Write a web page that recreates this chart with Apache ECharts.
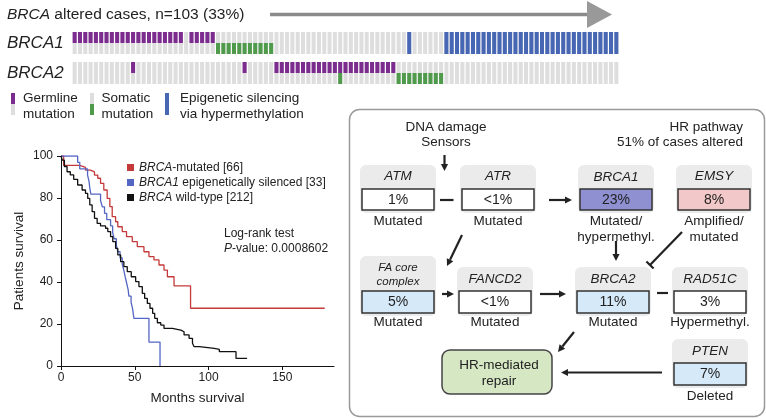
<!DOCTYPE html>
<html><head><meta charset="utf-8">
<script src="https://cdn.jsdelivr.net/npm/echarts@6/dist/echarts.min.js"></script>
<style>html,body{margin:0;padding:0;background:#fff}#c{width:766px;height:419px}</style>
</head><body><div id="c"></div>
<script>
// ---------------- DATA ----------------
const genes = ['BRCA1', 'BRCA2'];
// one char per case: G germline, S somatic, M hypermethylation, B germline+somatic, . none
const brca1Cases = 'GGGGGGGGGG GGGGGGGGGG G.GGGGGSSS SSSSSSSS.. .......... .......... ...M...... MMMMMMMMMM MMMMMMMMMM MMMMMMMMMM MMM'.replace(/ /g, '').split('');
const brca2Cases = '.......... .G........ .......... ..G.....GG GGGGGGGGGG BGGGGGGGGG GSSSSSSSSS .......... .......... .......... ...'.replace(/ /g, '').split('');

const kmNames = ['BRCA-mutated [66]', 'BRCA1 epigenetically silenced [33]', 'BRCA wild-type [212]'];
const redTime = [0, 1.8, 12.7, 16.6, 20, 22.7, 24.9, 26.8, 29, 31.3, 33.1, 34.7, 37, 38.5, 41.5, 44.4, 48.3, 51.7, 56.2, 59.6, 63, 66.4, 69.8, 72.1, 76.6, 87.8, 178.7];
const redSurv = [100, 95.5, 94.6, 93.3, 92.4, 90.9, 89.4, 87.0, 83.8, 79.8, 75.9, 71.1, 68.7, 66.3, 64.0, 61.6, 59.2, 56.8, 54.4, 52.1, 50.5, 48.1, 45.7, 42.5, 38.2, 27.5, 27.5];
const blueTime = [0, 11.3, 12.7, 18.0, 19.0, 19.5, 20.2, 26.8, 28.0, 29.5, 31.0, 33.6, 35.0, 36.0, 37.5, 38.5, 40.0, 41.5, 42.6, 43.5, 44.5, 45.5, 46.0, 47.5, 48.5, 49.4, 59.6, 67.1];
const blueSurv = [100, 97.0, 93.9, 90.9, 87.9, 84.8, 81.8, 78.8, 75.8, 72.7, 69.7, 66.7, 63.6, 60.6, 57.6, 54.5, 51.5, 48.5, 45.5, 42.4, 39.4, 36.4, 33.3, 30.3, 27.3, 22.7, 11.4, 0];
const blackTime = [0, 0.9, 2.3, 4.1, 6.3, 8.6, 11.3, 14.3, 16.6, 18.1, 19.5, 21.1, 22.7, 24.5, 26.8, 30.2, 31.7, 33.6, 35.1, 37.0, 38.5, 40.4, 42.6, 44.9, 47.6, 50.6, 52.8, 55.1, 56.7, 58.5, 60.3, 62.1, 63.5, 65.3, 67.6, 69.8, 75.5, 81.2, 83.4, 86.8, 89.1, 90.2, 93.7, 103.9, 107.3, 118.6, 126.1];
const blackSurv = [100, 98.0, 95.0, 92.5, 91.0, 88.9, 86.2, 83.8, 82.2, 79.8, 76.7, 73.5, 70.3, 67.9, 66.7, 65.6, 64.0, 61.6, 59.2, 56.0, 52.9, 49.7, 47.3, 44.9, 42.5, 40.2, 37.8, 34.6, 32.2, 29.8, 27.5, 25.1, 22.7, 20.6, 19.5, 17.9, 17.1, 16.3, 14.8, 13.2, 10.8, 9.2, 8.4, 7.9, 6.8, 3.6, 3.6];
const xTicks = [0, 50, 100, 150];

// ---------------- STYLE ----------------
const FONT = 'Liberation Sans, Arial, Helvetica, sans-serif';
const INK = '#222';
const PURPLE = '#7c2b8e', GREEN = '#4f9a4b', BLUE = '#4767b4', GRAY = '#dedede';

const caseIds = brca1Cases.map((_, i) => String(i));
const cellData = [], cellCodes = [];
[brca1Cases, brca2Cases].forEach((arr, g) => arr.forEach((code, i) => { cellData.push([i, g]); cellCodes.push(code); }));

function zip(a, b) { return a.map((t, i) => [t, b[i]]); }

// ---------------- GRAPHIC HELPERS ----------------
function txt(x, y, text, opt) {
  opt = opt || {};
  return { type: 'text', x: x, y: y, silent: true, style: Object.assign({ text: text, fill: INK, fontFamily: FONT, fontSize: 13.5, align: 'center', verticalAlign: 'middle' }, opt) };
}
function arrow(x1, y1, x2, y2, kind) {
  const els = [];
  const dx = x2 - x1, dy = y2 - y1, L = Math.hypot(dx, dy), ux = dx / L, uy = dy / L, px = -uy, py = ux;
  let ex = x2, ey = y2;
  if (kind === 'arrow') {
    const hl = 7, hw = 3.6; ex = x2 - ux * hl; ey = y2 - uy * hl;
    els.push({ type: 'polygon', shape: { points: [[x2, y2], [ex + px * hw, ey + py * hw], [ex - px * hw, ey - py * hw]] }, style: { fill: INK } });
  }
  els.push({ type: 'line', shape: { x1: x1, y1: y1, x2: ex, y2: ey }, style: { stroke: INK, lineWidth: 2.2 } });
  if (kind === 'tbar') {
    const hw = 5;
    els.push({ type: 'line', shape: { x1: x2 + px * hw, y1: y2 + py * hw, x2: x2 - px * hw, y2: y2 - py * hw }, style: { stroke: INK, lineWidth: 2.2 } });
  }
  return els;
}
function gene(o) {
  const els = [];
  const vw = 72, vh = o.vh || 22;
  els.push({ type: 'rect', shape: { x: o.vx - 2, y: o.top, width: vw + 4, height: o.vy + vh + 3 - o.top, r: 6 }, style: { fill: '#ebebeb' } });
  els.push({ type: 'rect', shape: { x: o.vx, y: o.vy, width: vw, height: vh }, style: { fill: o.fill || '#fff', stroke: '#333', lineWidth: 1.5 } });
  const cx = o.vx + vw / 2;
  o.names.forEach((n, k) => els.push(txt(cx, o.nameY + k * 14, n, { fontStyle: 'italic', fontSize: o.nameSize || 13.5 })));
  els.push(txt(cx, o.vy + vh / 2 + 0.5, o.pct, { fontSize: 14 }));
  o.status.forEach((s, k) => els.push(txt(cx, o.sy + k * 16, s)));
  return els;
}

let G = [];
// header
G.push(txt(7, 15, '{i|BRCA} altered cases, n=103 (33%)', { align: 'left', fontSize: 15.5, rich: { i: { fontStyle: 'italic', fontSize: 15.5, fontFamily: FONT, fill: INK } } }));
G.push({ type: 'line', shape: { x1: 270, y1: 14.5, x2: 590, y2: 14.5 }, style: { stroke: '#8a8a8a', lineWidth: 3.5 } });
G.push({ type: 'polygon', shape: { points: [[587, 1], [612, 14.5], [587, 28]] }, style: { fill: '#999' } });
// oncoprint legend
G.push({ type: 'rect', shape: { x: 11, y: 93, width: 4, height: 11 }, style: { fill: PURPLE } });
G.push({ type: 'rect', shape: { x: 11, y: 104, width: 4, height: 11 }, style: { fill: GRAY } });
G.push(txt(23, 98, 'Germline', { align: 'left' }));
G.push(txt(23, 114, 'mutation', { align: 'left' }));
G.push({ type: 'rect', shape: { x: 90, y: 93, width: 4, height: 11 }, style: { fill: GRAY } });
G.push({ type: 'rect', shape: { x: 90, y: 104, width: 4, height: 11 }, style: { fill: GREEN } });
G.push(txt(101.5, 98, 'Somatic', { align: 'left' }));
G.push(txt(101.5, 114, 'mutation', { align: 'left' }));
G.push({ type: 'rect', shape: { x: 165, y: 93, width: 4, height: 22 }, style: { fill: BLUE } });
G.push(txt(180, 98, 'Epigenetic silencing', { align: 'left' }));
G.push(txt(180, 114, 'via hypermethylation', { align: 'left' }));
// KM annotation
G.push(txt(224, 234, 'Log-rank test', { align: 'left', fontSize: 12 }));
G.push(txt(224, 249, '{i|P}-value: 0.0008602', { align: 'left', fontSize: 12, rich: { i: { fontStyle: 'italic', fontSize: 12, fontFamily: FONT, fill: INK } } }));
// pathway panel
G.push({ type: 'rect', shape: { x: 349.5, y: 109.5, width: 415, height: 307, r: 10 }, style: { fill: 'none', stroke: '#9a9a9a', lineWidth: 1.5 } });
G.push(txt(446, 127, 'DNA damage'));
G.push(txt(446, 142, 'Sensors'));
G.push(txt(743, 127, 'HR pathway', { align: 'right' }));
G.push(txt(743, 142, '51% of cases altered', { align: 'right' }));
G = G.concat(
  gene({ vx: 362, vy: 189, vh: 21, top: 165, names: ['ATM'], nameY: 176, pct: '1%', status: ['Mutated'], sy: 221 }),
  gene({ vx: 462, vy: 189, vh: 21, top: 165, names: ['ATR'], nameY: 176, pct: '<1%', status: ['Mutated'], sy: 221 }),
  gene({ vx: 580, vy: 189, vh: 21, top: 165, names: ['BRCA1'], nameY: 177, pct: '23%', fill: '#8f90d2', status: ['Mutated/', 'hypermethyl.'], sy: 221 }),
  gene({ vx: 678, vy: 189, vh: 21, top: 165, names: ['EMSY'], nameY: 176, pct: '8%', fill: '#f3c8c8', status: ['Amplified/', 'mutated'], sy: 221 }),
  gene({ vx: 362, vy: 291, vh: 22, top: 256, names: ['FA core', 'complex'], nameY: 268, nameSize: 11.5, pct: '5%', fill: '#d6e9f8', status: ['Mutated'], sy: 322 }),
  gene({ vx: 459, vy: 291, vh: 22, top: 267, names: ['FANCD2'], nameY: 279, pct: '<1%', status: ['Mutated'], sy: 322 }),
  gene({ vx: 577, vy: 291, vh: 22, top: 267, names: ['BRCA2'], nameY: 279, pct: '11%', fill: '#d6e9f8', status: ['Mutated'], sy: 322 }),
  gene({ vx: 674, vy: 291, vh: 22, top: 267, names: ['RAD51C'], nameY: 279, pct: '3%', status: ['Hypermethyl.'], sy: 322 }),
  gene({ vx: 674, vy: 363, vh: 22, top: 339, names: ['PTEN'], nameY: 351, pct: '7%', fill: '#d6e9f8', status: ['Deleted'], sy: 396 })
);
G.push({ type: 'rect', shape: { x: 442, y: 350, width: 110, height: 44, r: 8 }, style: { fill: '#d6e7c4', stroke: '#444', lineWidth: 1.5 } });
G.push(txt(499, 365, 'HR-mediated'));
G.push(txt(499, 381, 'repair'));
G = G.concat(
  arrow(444.5, 155, 444.5, 171, 'arrow'),
  arrow(440, 200, 453.5, 200, 'none'),
  arrow(549, 200, 572, 200, 'arrow'),
  arrow(462, 235, 447, 266, 'arrow'),
  arrow(616, 241, 616, 261, 'arrow'),
  arrow(682, 232, 650, 265, 'tbar'),
  arrow(442, 294, 454, 294, 'arrow'),
  arrow(540, 294, 566, 294, 'arrow'),
  arrow(657, 293, 668, 293, 'none'),
  arrow(574, 332, 558, 352, 'arrow'),
  arrow(662, 372.5, 561, 372.5, 'arrow')
);

// ---------------- CHART ----------------
const chart = echarts.init(document.getElementById('c'), null, { renderer: 'canvas' });
const axisTxt = { color: INK, fontFamily: FONT, fontSize: 12 };
chart.setOption({
  animation: false,
  backgroundColor: '#fff',
  grid: [
    { left: 72, top: 28, width: 547, height: 60 },
    { left: 61, top: 156, width: 273, height: 210 }
  ],
  xAxis: [
    { gridIndex: 0, type: 'category', data: caseIds, boundaryGap: true, show: false },
    { gridIndex: 1, type: 'value', min: 0, max: 185, interval: 50,
      axisLine: { lineStyle: { color: '#111', width: 1 } },
      axisTick: { length: 4, lineStyle: { color: '#111' }, customValues: xTicks },
      axisLabel: Object.assign({ margin: 6, customValues: xTicks }, axisTxt),
      splitLine: { show: false },
      name: 'Months survival', nameLocation: 'middle', nameGap: 25,
      nameTextStyle: { color: INK, fontFamily: FONT, fontSize: 13.5 } }
  ],
  yAxis: [
    { gridIndex: 0, type: 'category', data: genes, inverse: true,
      axisLine: { show: false }, axisTick: { show: false },
      axisLabel: { align: 'left', margin: 65, color: INK, fontFamily: FONT, fontSize: 17, fontStyle: 'italic' } },
    { gridIndex: 1, type: 'value', min: 0, max: 100, interval: 20,
      axisLine: { show: true, lineStyle: { color: '#111', width: 1 } },
      axisTick: { show: true, length: 4, lineStyle: { color: '#111' } },
      axisLabel: Object.assign({ margin: 8 }, axisTxt),
      splitLine: { show: false },
      name: 'Patients survival', nameLocation: 'middle', nameGap: 35, nameRotate: 90,
      nameTextStyle: { color: INK, fontFamily: FONT, fontSize: 13.5 } }
  ],
  legend: {
    data: kmNames, orient: 'vertical', left: 122, top: 155, itemWidth: 7, itemHeight: 7, itemGap: 0,
    icon: 'rect', selectedMode: false,
    textStyle: { color: INK, fontFamily: FONT, fontSize: 12, lineHeight: 15,
      rich: { i: { fontStyle: 'italic', fontSize: 12, fontFamily: FONT, color: INK, lineHeight: 15 },
              n: { fontSize: 12, fontFamily: FONT, color: INK, lineHeight: 15 } } },
    formatter: function (name) {
      const m = name.match(/^(BRCA1?)(.*)$/);
      return '{i|' + m[1] + '}{n|' + m[2] + '}';
    }
  },
  series: [
    { type: 'custom', xAxisIndex: 0, yAxisIndex: 0, data: cellData, encode: { x: 0, y: 1 },
      renderItem: function (params, api) {
        const c = api.coord([api.value(0), api.value(1)]);
        const bw = api.size([1, 0])[0];
        const w = bw * 0.76, h = 22, x = c[0] - w / 2, y = c[1] - h / 2;
        const code = cellCodes[params.dataIndex];
        const ch = [{ type: 'rect', shape: { x: x, y: y, width: w, height: h }, style: { fill: GRAY } }];
        if (code === 'G' || code === 'B') ch.push({ type: 'rect', shape: { x: x, y: y, width: w, height: h / 2 }, style: { fill: PURPLE } });
        if (code === 'S' || code === 'B') ch.push({ type: 'rect', shape: { x: x, y: y + h / 2, width: w, height: h / 2 }, style: { fill: GREEN } });
        if (code === 'M') ch.push({ type: 'rect', shape: { x: x, y: y, width: w, height: h }, style: { fill: BLUE } });
        return { type: 'group', children: ch };
      } },
    { name: kmNames[0], type: 'line', xAxisIndex: 1, yAxisIndex: 1, step: 'end', showSymbol: false, symbol: 'none',
      data: zip(redTime, redSurv), color: '#c43a3a', lineStyle: { width: 1.3, color: '#c43a3a' } },
    { name: kmNames[1], type: 'line', xAxisIndex: 1, yAxisIndex: 1, step: 'end', showSymbol: false, symbol: 'none',
      data: zip(blueTime, blueSurv), color: '#5366c4', lineStyle: { width: 1.3, color: '#5366c4' } },
    { name: kmNames[2], type: 'line', xAxisIndex: 1, yAxisIndex: 1, step: 'end', showSymbol: false, symbol: 'none',
      data: zip(blackTime, blackSurv), color: '#111', lineStyle: { width: 1.3, color: '#111' } }
  ],
  graphic: { elements: G }
});
</script>
</body></html>
